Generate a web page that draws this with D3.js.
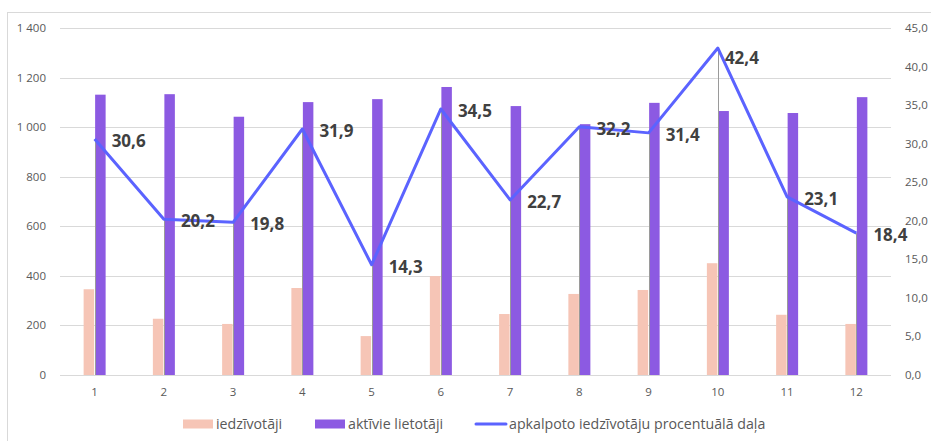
<!DOCTYPE html>
<html><head><meta charset="utf-8">
<script src="https://cdn.jsdelivr.net/npm/d3@7"></script>
<style>body{margin:0;background:#fff;} svg{display:block;}</style>
</head><body>
<svg id="c" width="931" height="441"></svg>
<script>
const categories = ["1","2","3","4","5","6","7","8","9","10","11","12"];
const residents = [346, 227, 206, 351, 157, 399, 246, 327, 343, 451, 243, 206];
const activeUsers = [1131, 1133, 1042, 1101, 1113, 1162, 1085, 1012, 1098, 1065, 1057, 1121];
const share = [30.6, 20.2, 19.8, 31.9, 14.3, 34.5, 22.7, 32.2, 31.4, 42.4, 23.1, 18.4];
const leftTicks = [0,200,400,600,800,1000,1200,1400];
const rightTicks = [0,5,10,15,20,25,30,35,40,45];
const legendLabels = ["iedzīvotāji","aktīvie lietotāji","apkalpoto iedzīvotāju procentuālā daļa"];

const colPeach = "#f6c5b6", colPurple = "#8c5ae2", colLine = "#5b63ff";
const svg = d3.select("#c");
const font = "'Open Sans', sans-serif";

svg.append("rect").attr("x",7.5).attr("y",12.5).attr("width",940).attr("height",440)
  .attr("fill","#fff").attr("stroke","#d9d9d9");

const L = 60, R = 891, T = 28, B = 375;
const x = d3.scaleBand().domain(categories).range([L,R]);
const yL = d3.scaleLinear().domain([0,1400]).range([B,T]);
const yR = d3.scaleLinear().domain([0,45]).range([B,T]);

// gridlines
svg.append("g").selectAll("line").data(leftTicks).join("line")
  .attr("x1",L).attr("x2",R).attr("y1",d=>Math.round(yL(d))+0.5).attr("y2",d=>Math.round(yL(d))+0.5)
  .attr("stroke","#d9d9d9").attr("stroke-width",1);

// left axis labels
const fmtL = d => d3.format(",")(d).replace(/,/g," ");
svg.append("g").selectAll("text").data(leftTicks).join("text")
  .attr("x",46).attr("y",d=>yL(d)).attr("dy","0.35em").attr("text-anchor","end")
  .attr("font-family",font).attr("font-size",11.5).attr("fill","#595959").text(fmtL);
// right axis labels
svg.append("g").selectAll("text").data(rightTicks).join("text")
  .attr("x",905).attr("y",d=>yR(d)).attr("dy","0.35em").attr("text-anchor","start")
  .attr("font-family",font).attr("font-size",11.5).attr("fill","#595959").text(d=>d.toFixed(1).replace(".",","));
// bottom labels
svg.append("g").selectAll("text").data(categories).join("text")
  .attr("x",d=>x(d)+x.bandwidth()/2).attr("y",392).attr("dy","0.35em").attr("text-anchor","middle")
  .attr("font-family",font).attr("font-size",11.5).attr("fill","#595959").text(d=>d);

const bw = 10.5;
const cx = i => x(categories[i]) + x.bandwidth()/2;
svg.append("g").selectAll("rect").data(residents).join("rect")
  .attr("x",(d,i)=>cx(i)-bw-0.5).attr("width",bw).attr("y",d=>yL(d)).attr("height",d=>B-yL(d))
  .attr("fill",colPeach);
svg.append("g").selectAll("rect").data(activeUsers).join("rect")
  .attr("x",(d,i)=>cx(i)+0.5).attr("width",bw).attr("y",d=>yL(d)).attr("height",d=>B-yL(d))
  .attr("fill",colPurple);

// drop lines
svg.append("g").selectAll("line").data(share).join("line")
  .attr("x1",(d,i)=>Math.round(cx(i))+0.5).attr("x2",(d,i)=>Math.round(cx(i))+0.5)
  .attr("y1",d=>yR(d)).attr("y2",B)
  .attr("stroke","#9a9a9a").attr("stroke-width",1);

// line
const line = d3.line().x((d,i)=>cx(i)).y(d=>yR(d));
svg.append("path").datum(share).attr("d",line).attr("fill","none")
  .attr("stroke",colLine).attr("stroke-width",3).attr("stroke-linejoin","round");

// labels
const maxV = d3.max(share);
svg.append("g").selectAll("text").data(share).join("text")
  .attr("x",(d,i)=> cx(i) + (d===maxV ? 7 : 17))
  .attr("y",d=> yR(d) + (d===maxV ? 10 : 2)).attr("dy","0.35em")
  .attr("font-family",font).attr("font-weight","bold").attr("font-size",17).attr("fill","#404040")
  .text(d=>d.toFixed(1).replace(".",","));

// legend
const ly = 424;
const lg = svg.append("g").attr("font-family",font).attr("font-size",14.2).attr("fill","#595959");
const items = [{x:183, type:"rect", c:colPeach},{x:315, type:"rect", c:colPurple},{x:476, type:"line", c:colLine}];
items.forEach((it,i)=>{
  if(it.type==="rect") lg.append("rect").attr("x",it.x).attr("y",ly-4.5).attr("width",30).attr("height",9).attr("fill",it.c);
  else lg.append("line").attr("x1",it.x).attr("x2",it.x+30).attr("y1",ly).attr("y2",ly).attr("stroke",it.c).attr("stroke-width",3).attr("stroke-linecap","round");
  lg.append("text").attr("x",it.x+33).attr("y",ly).attr("dy","0.35em").text(legendLabels[i]);
});
</script>
</body></html>
